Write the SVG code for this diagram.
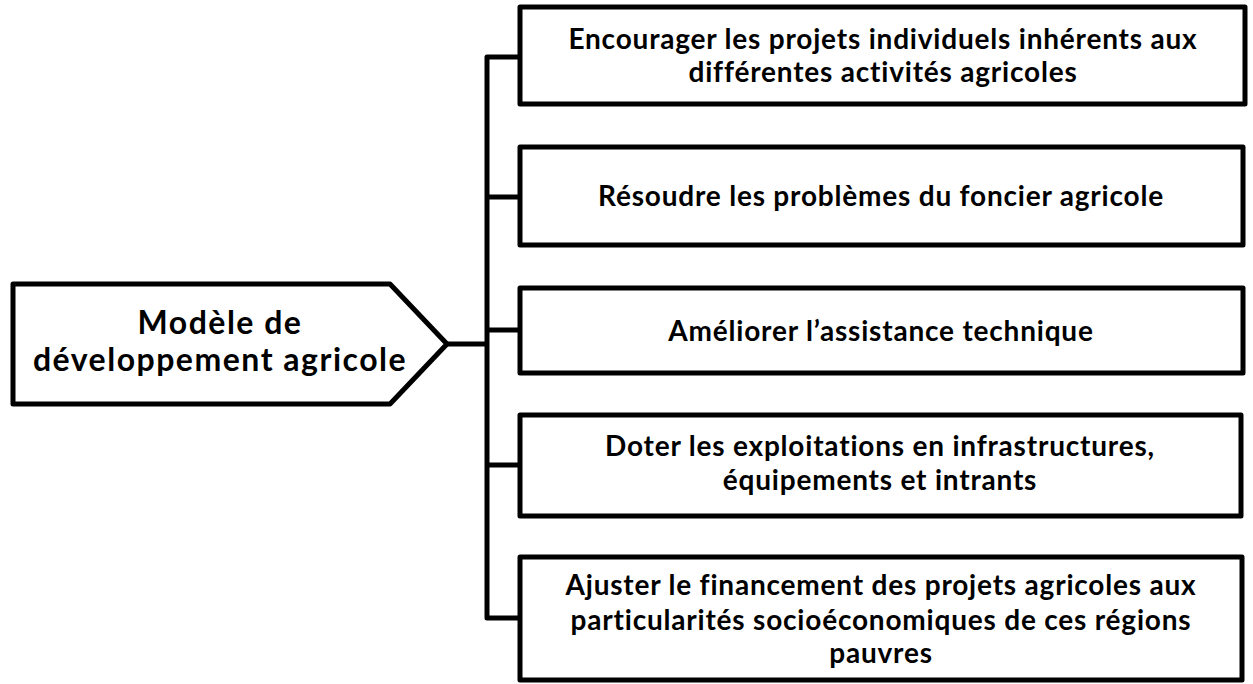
<svg xmlns="http://www.w3.org/2000/svg" width="1253" height="684" viewBox="0 0 1253 684">
<style>
.box{fill:#fff;stroke:#000;stroke-width:5;stroke-linejoin:round}
.t{font-family:Lato,"Open Sans","Liberation Sans",sans-serif;font-weight:bold;font-size:28px;letter-spacing:0.8px;fill:#000;text-anchor:middle}
.m{font-size:32px;letter-spacing:1.5px}
.c{fill:none;stroke:#000;stroke-width:5;stroke-linejoin:round}
</style>
<rect width="1253" height="684" fill="#fff"/>
<g id="connectors">
<polyline class="c" points="520,57 487,57 487,618 520,618"/>
<line class="c" x1="487" y1="197" x2="520" y2="197"/>
<line class="c" x1="487" y1="330" x2="520" y2="330"/>
<line class="c" x1="487" y1="465" x2="520" y2="465"/>
<line class="c" x1="447" y1="344" x2="487" y2="344"/>
</g>
<g id="main">
<polygon class="box" points="13,284 390,284 447,344 390,404 13,404"/>
<text class="t m" x="220" y="334">Modèle de</text>
<text class="t m" x="220" y="371">développement agricole</text>
</g>
<g id="n1">
<rect class="box" x="520" y="7" width="725" height="97"/>
<text class="t" x="883" y="49">Encourager les projets individuels inhérents aux</text>
<text class="t" x="883" y="82">différentes activités agricoles</text>
</g>
<g id="n2">
<rect class="box" x="520" y="147" width="723" height="98"/>
<text class="t" x="881" y="206">Résoudre les problèmes du foncier agricole</text>
</g>
<g id="n3">
<rect class="box" x="520" y="288" width="723" height="85"/>
<text class="t" x="881" y="341">Améliorer l’assistance technique</text>
</g>
<g id="n4">
<rect class="box" x="520" y="415" width="721" height="101"/>
<text class="t" x="880" y="456">Doter les exploitations en infrastructures,</text>
<text class="t" x="880" y="490">équipements et intrants</text>
</g>
<g id="n5">
<rect class="box" x="520" y="557" width="722" height="123"/>
<text class="t" x="881" y="595">Ajuster le financement des projets agricoles aux</text>
<text class="t" x="881" y="630">particularités socioéconomiques de ces régions</text>
<text class="t" x="881" y="663">pauvres</text>
</g>
</svg>
